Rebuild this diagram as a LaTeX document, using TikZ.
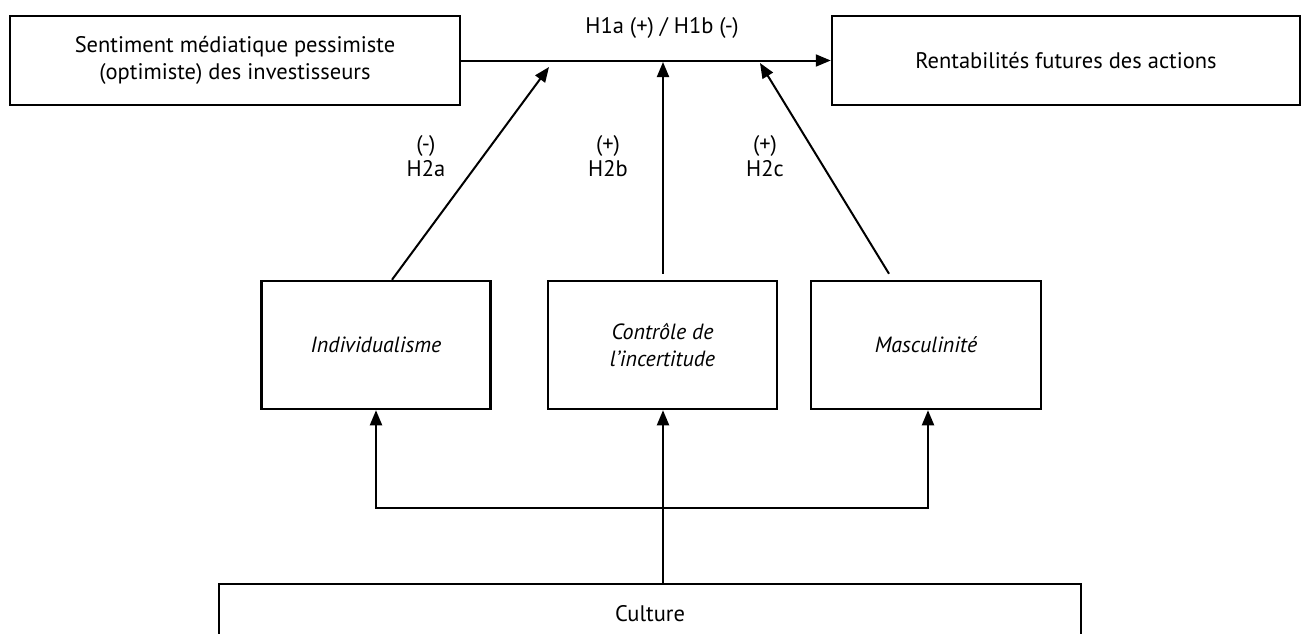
\documentclass[tikz,border=0pt]{standalone}
\usepackage{fontspec}
\setmainfont{PT Sans}
\usepackage{tikz}
\usetikzlibrary{positioning, arrows.meta, calc}
\tikzset{
  box/.style={draw, line width=2.5pt, align=center, font=\fontsize{22.5}{27}\selectfont, inner sep=4pt},
  factor/.style={box, font=\fontsize{22}{27}\selectfont\itshape, minimum width=229pt, minimum height=128pt},
  lbl/.style={align=center, font=\fontsize{22.5}{25}\selectfont, inner sep=0pt},
  arr/.style={-{Triangle[length=15pt, width=12pt]}, line width=2pt},
  conn/.style={line width=2pt},
}
\begin{document}
\begin{tikzpicture}[x=1pt, y=-1pt]
  \clip (0,0) rectangle (1302,633);
  % boxes
  \node[box, minimum width=450pt, minimum height=89pt] (sent) at (235,60.5) {Sentiment médiatique pessimiste\\(optimiste) des investisseurs};
  \node[box, minimum width=468pt, minimum height=89pt] (rent) at (1066,60.5) {Rentabilités futures des actions};
  \node[factor] (indiv) at (376,345) {Individualisme};
  \node[factor] (ctrl) at (662.5,345) {Contrôle de\\l'incertitude};
  \node[factor, minimum width=230pt] (masc) at (926,345) {Masculinité};
  \node[box, minimum width=862pt, minimum height=60pt] (cult) at (650,614) {Culture};
  % main effect
  \draw[arr] (sent.east) -- (rent.west);
  \node[lbl] (h1) at (662,28) {H1a (+) / H1b (-)};
  % moderating effects
  \coordinate (h2aend) at (549,67);
  \coordinate (h2bend) at (663,62);
  \coordinate (h2cend) at (760,63);
  \draw[arr] ([xshift=16pt]indiv.north) -- (h2aend);
  \draw[arr] ([yshift=6pt]ctrl.north -| h2bend) -- (h2bend);
  \draw[arr] ([xshift=-37pt, yshift=6pt]masc.north) -- (h2cend);
  \node[lbl] (h2a) at (426,156) {(-)\\H2a};
  \node[lbl] (h2b) at (608,156) {(+)\\H2b};
  \node[lbl] (h2c) at (765,156) {(+)\\H2c};
  % culture dimensions
  \coordinate (split) at (663,508);
  \draw[conn] (cult.north -| split) -- (split);
  \draw[arr] (split) -| (indiv.south);
  \draw[arr] (split) -| ([xshift=2pt]masc.south);
  \draw[arr] (split) -- (ctrl.south -| split);
\end{tikzpicture}
\end{document}
